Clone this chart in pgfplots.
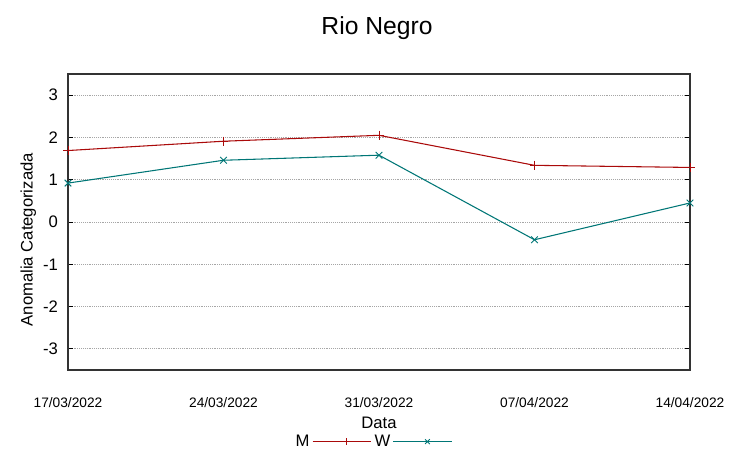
\documentclass[border=0pt]{standalone}
\usepackage{pgfplots}
\pgfplotsset{compat=1.18}
\usepackage{fontspec}
\setmainfont{Liberation Sans}
\definecolor{mred}{RGB}{170,10,10}
\definecolor{wteal}{RGB}{0,118,118}
\pgfplotsset{longlegend/.style={legend image code/.code={\path (0pt,0pt) -- (44pt,0pt); \draw[##1,draw=#1,mark size=2.5pt] (8pt,0pt) -- (43pt,0pt) plot coordinates {(25.5pt,0pt)};}}}
\begin{document}
\begin{tikzpicture}
\useasboundingbox (0pt,0pt) rectangle (564.75pt,344.25pt);
\node[font=\fontsize{18.5}{20}\selectfont] at (282.75pt,323.25pt) {Rio Negro};
\begin{axis}[
  at={(51pt,66.75pt)}, anchor=south west,
  scale only axis, width=466.5pt, height=222pt,
  xmin=0, xmax=4, ymin=-3.5, ymax=3.5,
  xtick={0,1,2,3,4},
  xticklabels={17/03/2022,24/03/2022,31/03/2022,07/04/2022,14/04/2022},
  ytick={-3,-2,-1,0,1,2,3},
  /pgf/number format/assume math mode=true,
  x tick label style={font=\fontsize{10.3}{12}\selectfont, yshift=-17pt},
  y tick label style={font=\fontsize{12.5}{14}\selectfont, xshift=-4pt},
  major x tick style={draw=none},
  major y tick style={black, line width=0.6pt},
  tick align=inside, major tick length=4pt,
  ymajorgrids, grid style={gray!70, densely dotted, line width=0.6pt},
  axis line style={black!80, line width=0.9pt},
  xlabel={Data}, ylabel={Anomalia Categorizada},
  label style={font=\fontsize{12.5}{14}\selectfont},
  xlabel style={at={(axis description cs:0.5,-0.179)}, anchor=center},
  ylabel style={at={(axis description cs:-0.064,0.44)}, anchor=center},
  legend columns=2, legend plot pos=right,
  legend style={at={(axis description cs:0.49,-0.242)}, anchor=center, draw=none, fill=none,
    font=\fontsize{12.5}{14}\selectfont, column sep=0pt, inner sep=0pt},
]
\addplot[color=mred, line width=0.8pt, mark=+, mark size=3.5pt, mark options={line width=0.7pt}, longlegend=mred] coordinates {
 (0,1.69) (1,1.91) (2,2.05) (3,1.34) (4,1.29)};
\addlegendentry{M}
\addplot[color=wteal, line width=0.8pt, mark=x, mark size=3.5pt, mark options={line width=0.7pt}, longlegend=wteal] coordinates {
 (0,0.92) (1,1.46) (2,1.58) (3,-0.42) (4,0.45)};
\addlegendentry{W}
\end{axis}
\end{tikzpicture}
\end{document}
